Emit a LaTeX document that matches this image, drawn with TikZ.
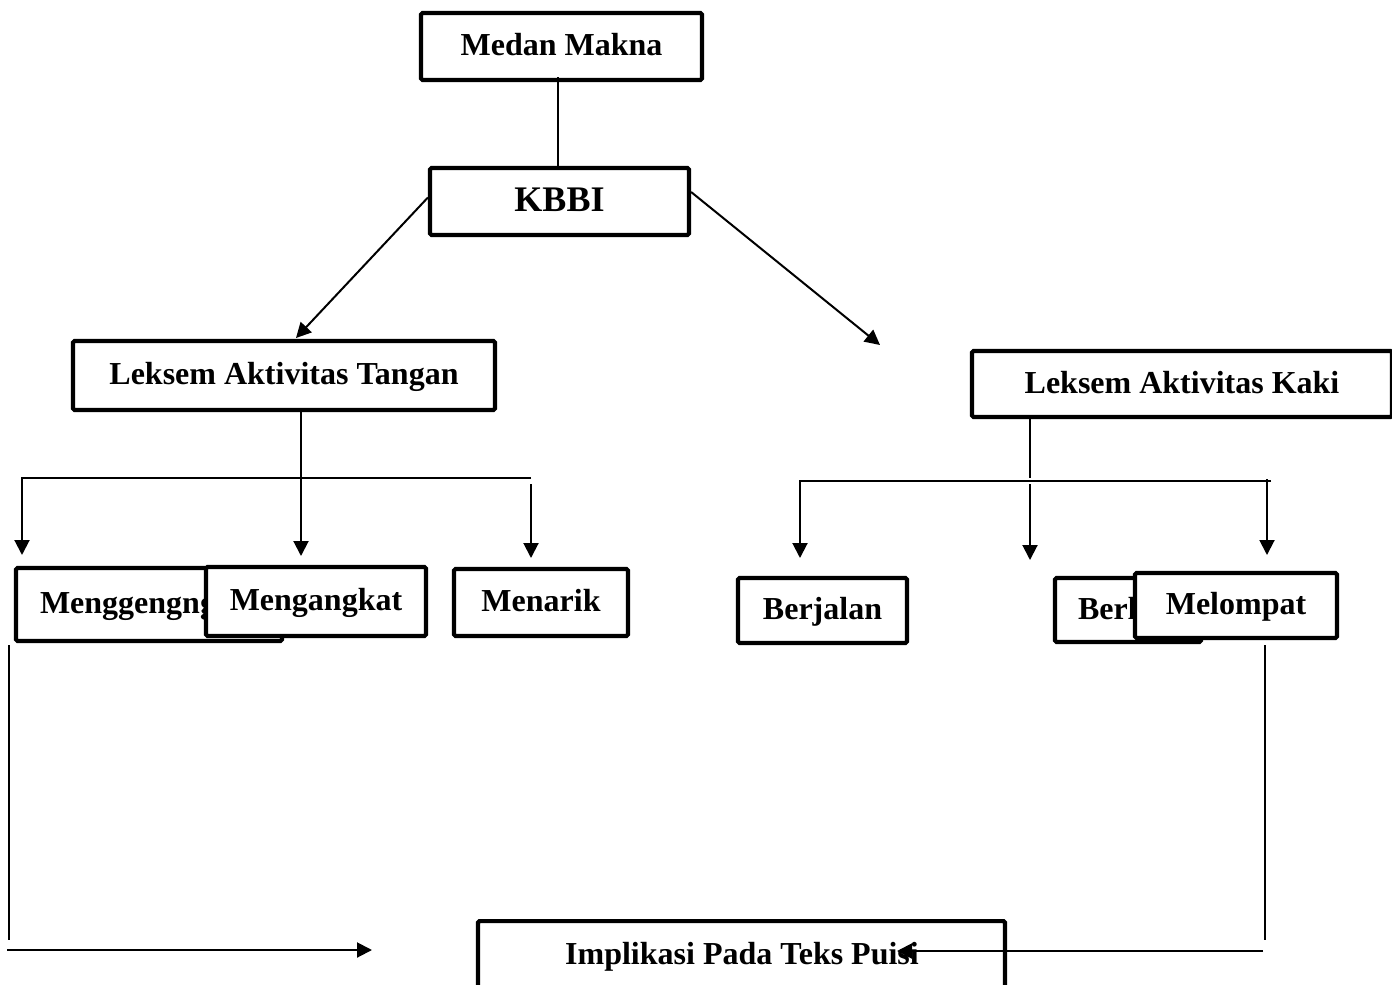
\documentclass[tikz,border=0pt]{standalone}
\usepackage{fontspec}
\setmainfont{Liberation Serif}
\usetikzlibrary{arrows.meta}
\begin{document}
\begin{tikzpicture}[x=1pt,y=-1pt,
  lbl/.style={font=\fontsize{32}{36}\selectfont\bfseries, text height=18pt, text depth=0pt},
  box/.style={lbl, draw, line width=4.2pt, rounded corners=1.5pt, fill=white, inner sep=0pt},
  conn/.style={line width=2pt},
  arr/.style={conn, -{Triangle[length=15pt,width=15pt]}}
]
\useasboundingbox (0,0) rectangle (1392,985);
\clip (0,0) rectangle (1392,985);

% boxes
\node[box, minimum width=281pt, minimum height=67pt] (medan) at (561.5,46.5) {Medan Makna};
\node[box, minimum width=259pt, minimum height=67pt, font=\fontsize{36}{40}\selectfont\bfseries, text height=20pt] (kbbi) at (559.5,201.5) {KBBI};
\node[box, minimum width=422pt, minimum height=69pt] (tangan) at (284,375.5) {Leksem Aktivitas Tangan};
\node[box, minimum width=420pt, minimum height=66pt] (kaki) at (1182,384) {Leksem Aktivitas Kaki};

\node[box, minimum height=73pt, inner xsep=24pt, text width=218pt, align=left] (genggam) at (149,604.5) {Menggengng};
\node[box, minimum width=220pt, minimum height=69pt] (angkat) at (316,601.5) {Mengangkat};
\node[box, minimum width=174pt, minimum height=67pt] (tarik) at (541,602.5) {Menarik};
\node[box, minimum width=169pt, minimum height=65pt] (jalan) at (822.5,610.5) {Berjalan};
\node[box, minimum height=64pt, inner xsep=23pt, text width=100pt, align=left] (lari) at (1128,610) {Berlari};
\node[box, minimum width=202pt, minimum height=65pt] (lompat) at (1236,605.5) {Melompat};

\node[box, minimum width=527pt, minimum height=100pt, anchor=north] (impl) at (741.5,919) {};
\node[lbl, inner sep=0pt] (impltxt) at (742,955) {Implikasi Pada Teks Puisi};

% top connectors
\draw[conn] ([xshift=-3.5pt,yshift=5pt]medan.south) -- ([xshift=-3.5pt]medan.south |- kbbi.north);
\coordinate (tl) at (296,338);
\coordinate (tr) at (880,345);
\draw[arr] ([yshift=4pt]kbbi.west) -- (tl);
\draw[arr] ([yshift=9.5pt]kbbi.east) -- (tr);

% left branch
\coordinate (h1l) at (22,478);
\coordinate (h1r) at (531,478);
\coordinate (a1) at (22,555);
\coordinate (a2) at (301,556);
\coordinate (a3s) at (531,484);
\coordinate (a3) at (531,558);
\draw[arr] ([xshift=17pt]tangan.south) -- (a2);
\draw[arr] (h1r) -- (h1l) -- (a1);
\draw[arr] (a3s) -- (a3);

% right branch
\coordinate (kj) at (1030,478);
\coordinate (h2l) at (800,481);
\coordinate (h2r) at (1271,481);
\coordinate (b1) at (800,558);
\coordinate (b2s) at (1030,484);
\coordinate (b2) at (1030,560);
\coordinate (b3s) at (1267,479);
\coordinate (b3) at (1267,555);
\draw[conn] ([xshift=-152pt,yshift=4pt]kaki.south) -- (kj);
\draw[arr] (h2r) -- (h2l) -- (b1);
\draw[arr] (b2s) -- (b2);
\draw[arr] (b3s) -- (b3);

% bottom connectors
\coordinate (lv1) at (9,645);
\coordinate (lv2) at (9,940);
\coordinate (lh1) at (7,950);
\coordinate (lh2) at (372,950);
\coordinate (rv1) at (1265,645);
\coordinate (rv2) at (1265,940);
\coordinate (rh1) at (1263,951);
\coordinate (rh2) at (897,951);
\draw[conn] (lv1) -- (lv2);
\draw[arr] (lh1) -- (lh2);
\draw[conn] (rv1) -- (rv2);
\draw[arr] (rh1) -- (rh2);
\end{tikzpicture}
\end{document}
